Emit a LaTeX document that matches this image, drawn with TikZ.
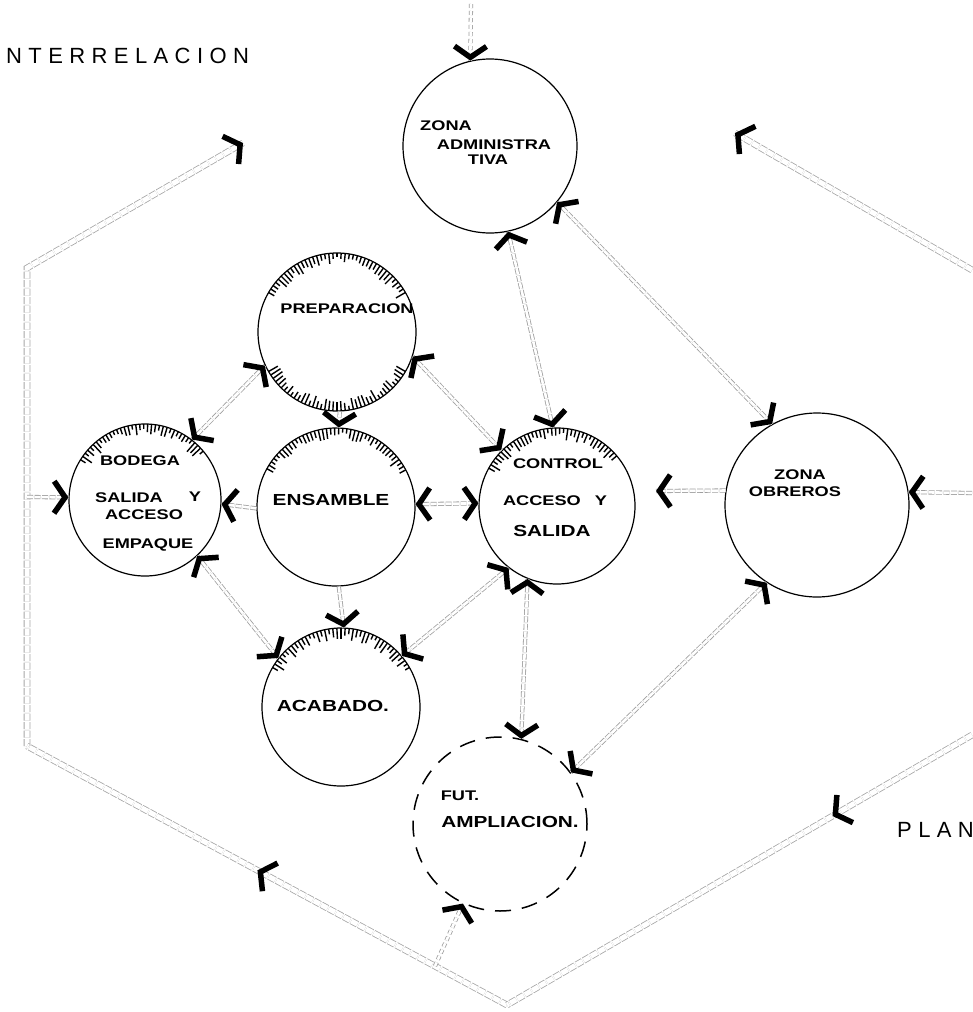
\documentclass[tikz,border=0pt]{standalone}
\usepackage{fontspec}
\setmainfont{Liberation Sans}
\newfontfamily\hand[FakeStretch=1.3]{Liberation Sans}
\usetikzlibrary{arrows.meta,decorations.markings}
\newcommand\hatchticks[5]{%
  \foreach \a in {#3,#4,...,#5}{%
    \pgfmathsetmacro\L{4+8*rnd}%
    \pgfmathsetmacro\b{\a+180}%
    \draw[hatchline] (#1.center) ++(\a:#2) -- ++(\b:\L pt);}}
\tikzset{
  chev/.tip={Straight Barb[length=11pt,width=32pt,line width=5.5pt]},
  zone/.style={circle, draw=black, line width=1.2pt, inner sep=0pt},
  futzone/.style={circle, draw=black, line width=1.5pt, inner sep=0pt, dash pattern=on 16pt off 11pt},
  hatchline/.style={draw=black, line width=1.4pt},
  link/.style={preaction={draw=gray!75, double=white, double distance=2.6pt, line width=.8pt, dash pattern=on 6pt off 1.5pt}},
  linkd/.style={preaction={draw=gray!75, double=white, double distance=2.6pt, line width=.8pt, dash pattern=on 4pt off 3pt}},
  hex/.style={preaction={draw=gray!70, double=white, double distance=5pt, line width=.8pt, dash pattern=on 7pt off 1.5pt}},
  etip/.style={postaction={decorate,decoration={markings,mark=at position 1 with {\arrow[black]{chev}}}}},
  stip/.style={postaction={decorate,decoration={markings,mark=at position 0 with {\arrowreversed[black]{chev}}}}},
  btip/.style={etip,stip},
  mtip/.style={postaction={decorate,decoration={markings,mark=at position #1 with {\arrow[black]{chev}}}}},
  lbl/.style={font=\hand\bfseries\fontsize{14}{14}\selectfont, inner sep=0pt, text=black},
  lblb/.style={lbl, font=\hand\bfseries\fontsize{16}{16}\selectfont},
  ttl/.style={font=\fontsize{22}{22}\selectfont, inner sep=0pt, anchor=west, text=black}
}
\begin{document}
\begin{tikzpicture}[x=1pt,y=-1pt]
\useasboundingbox (0,0) rectangle (972,1012);
\pgfmathsetseed{7}
% titles
\node[ttl] (title) at (6,56) {N\kern6.4pt T\kern6.4pt E\kern6.4pt R\kern6.4pt R\kern6.4pt E\kern6.4pt L\kern6.4pt A\kern6.4pt C\kern6.4pt I\kern6.4pt O\kern6.4pt N};
\node[ttl] (plan) at (897,830) {P\kern6.4pt L\kern6.4pt A\kern6.4pt N};
% zones
\node[zone, minimum size=174pt] (adm) at (490,146) {};
\node[zone, minimum size=158pt] (prep) at (337,332) {};
\node[zone, minimum size=152pt] (bod) at (145,500) {};
\node[zone, minimum size=158pt] (ens) at (336,507) {};
\node[zone, minimum size=156pt] (ctl) at (557,506) {};
\node[zone, minimum size=184pt] (obr) at (817,505) {};
\node[zone, minimum size=158pt] (aca) at (341,707) {};
\node[futzone, minimum size=174pt] (fut) at (500,824) {};
% hatching
\hatchticks{prep}{79pt}{30}{33}{150}
\hatchticks{prep}{79pt}{-150}{-147}{-30}
\hatchticks{bod}{76pt}{40}{43}{150}
\hatchticks{ens}{79pt}{28}{31}{152}
\hatchticks{ctl}{78pt}{40}{43}{152}
\hatchticks{aca}{79pt}{30}{33}{150}
% labels
\node[lbl] (t1) at (446,126) {ZONA};
\node[lbl] (t2) at (494,145) {ADMINISTRA};
\node[lbl] (t3) at (488,160) {TIVA};
\node[lbl] (t4) at (347,309) {PREPARACION};
\node[lbl] (t5) at (140,461) {BODEGA};
\node[lbl] (t6) at (129,498) {SALIDA};
\node[lbl] (t6b) at (195,497) {Y};
\node[lbl] (t7) at (144,515) {ACCESO};
\node[lbl] (t8) at (148,545) {EMPAQUE};
\node[lblb] (t9) at (331,500) {ENSAMBLE};
\node[lbl] (t10) at (558,464) {CONTROL};
\node[lbl] (t11) at (555,501) {ACCESO\hspace{14pt}Y};
\node[lblb] (t12) at (552,531) {SALIDA};
\node[lbl] (t13) at (800,475) {ZONA};
\node[lbl] (t14) at (795,492) {OBREROS};
\node[lblb] (t15) at (333,706) {ACABADO.};
\node[lbl] (t16) at (460,796) {FUT.};
\node[lblb] (t17) at (510,822) {AMPLIACION.};
% outer frame
\coordinate (hA) at (27,268);
\coordinate (hB) at (27,746);
\coordinate (hC) at (507,1005);
\coordinate (hTL) at (243,143);
\coordinate (hTR) at (735,133);
\coordinate (hR1) at (972,270);
\coordinate (hR2) at (972,735);
\coordinate (hJ) at (435,966);
\path[hex, etip] (hB) -- (hA) -- (hTL);
\path[hex, mtip=0.52] (hC) -- (hB);
\path[hex, mtip=0.3] (hR2) -- (hC);
\path[hex, etip] (hR1) -- (hTR);
% connectors
\coordinate (topin) at (471,4);
\coordinate (ctlr) at (656,491);
\coordinate (rin) at (972,493);
\coordinate (lin) at (27,497);
\path[linkd, etip] (topin) -- (adm.103);
\path[link, btip] (adm.-78) -- (ctl.93);
\path[link, btip] (adm.-40) -- (obr.119);
\path[link, btip] (prep.-155) -- (bod.52);
\path[link, btip] (prep.-18) -- (ctl.135);
\path[link, etip] (prep.-88) -- (ens.88);
\path[link, etip] (ens.181) -- (bod.-3);
\path[link, btip] (ens.2) -- (ctl.178);
\path[link, etip] (obr.171) -- (ctlr);
\path[link, etip] (rin) -- (obr.8);
\path[link, etip] (lin) -- (bod.178);
\path[link, btip] (bod.-47) -- (aca.142);
\path[link, etip] (ens.-88) -- (aca.88);
\path[link, btip] (ctl.-128) -- (aca.40);
\path[link, btip] (ctl.-112) -- (fut.76);
\path[link, btip] (obr.-123) -- (fut.36);
\path[linkd, etip] (hJ) -- (fut.-115);
\end{tikzpicture}
\end{document}
